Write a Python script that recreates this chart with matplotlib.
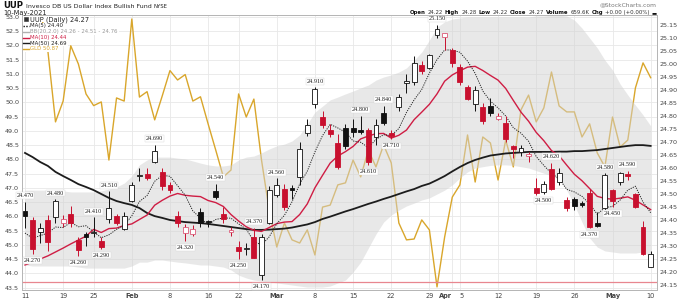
import matplotlib
matplotlib.use('Agg')
import matplotlib.pyplot as plt
import numpy as np
import pandas as pd
from matplotlib.lines import Line2D
from matplotlib.patches import Rectangle

# ---------------- data ----------------
dates = pd.bdate_range('2021-01-11', '2021-05-10')
holidays = pd.to_datetime(['2021-01-18', '2021-02-15', '2021-04-02'])
dates = dates[~dates.isin(holidays)]

opens = [24.435, 24.40, 24.355, 24.40, 24.41, 24.39, 24.425, 24.325, 24.345, 24.35,
         24.32, 24.405, 24.415, 24.365, 24.475, 24.57, 24.577, 24.625, 24.585, 24.535,
         24.415, 24.35, 24.347, 24.43, 24.395, 24.51, 24.425, 24.355, 24.295, 24.29,
         24.335, 24.19, 24.39, 24.497, 24.52, 24.525, 24.565, 24.735, 24.845, 24.795,
         24.745, 24.695, 24.755, 24.755, 24.745, 24.745, 24.72, 24.81, 24.735, 24.835,
         24.927, 24.93, 24.995, 24.985, 25.11, 25.105, 25.055, 24.99, 24.91, 24.848,
         24.835, 24.84, 24.79, 24.772, 24.685, 24.66, 24.648, 24.525, 24.508, 24.595,
         24.548, 24.477, 24.48, 24.465, 24.505, 24.388, 24.447, 24.515, 24.545, 24.577,
         24.50, 24.372, 24.22]
highs = [24.47, 24.41, 24.39, 24.42, 24.48, 24.42, 24.455, 24.335, 24.355, 24.41,
         24.335, 24.51, 24.425, 24.43, 24.545, 24.60, 24.60, 24.69, 24.60, 24.545,
         24.435, 24.385, 24.38, 24.445, 24.40, 24.54, 24.45, 24.375, 24.32, 24.31,
         24.37, 24.345, 24.53, 24.56, 24.54, 24.535, 24.70, 24.79, 24.91, 24.82,
         24.77, 24.73, 24.77, 24.79, 24.80, 24.755, 24.79, 24.84, 24.745, 24.885,
         24.96, 25.03, 25.01, 25.04, 25.15, 25.12, 25.06, 25.00, 24.92, 24.915,
         24.85, 24.87, 24.81, 24.80, 24.69, 24.69, 24.66, 24.56, 24.55, 24.62,
         24.60, 24.49, 24.49, 24.475, 24.52, 24.43, 24.58, 24.52, 24.585, 24.59,
         24.505, 24.395, 24.28]
lows = [24.37, 24.27, 24.31, 24.28, 24.39, 24.375, 24.375, 24.26, 24.30, 24.335,
        24.29, 24.39, 24.38, 24.36, 24.47, 24.55, 24.555, 24.62, 24.515, 24.505,
        24.375, 24.32, 24.34, 24.375, 24.375, 24.48, 24.39, 24.34, 24.25, 24.265,
        24.252, 24.17, 24.385, 24.49, 24.44, 24.48, 24.535, 24.725, 24.83, 24.755,
        24.72, 24.595, 24.675, 24.72, 24.73, 24.61, 24.69, 24.765, 24.71, 24.82,
        24.89, 24.92, 24.96, 24.98, 25.10, 25.055, 24.99, 24.92, 24.86, 24.82,
        24.77, 24.80, 24.785, 24.70, 24.64, 24.645, 24.625, 24.495, 24.50, 24.515,
        24.535, 24.435, 24.44, 24.45, 24.37, 24.375, 24.43, 24.45, 24.535, 24.555,
        24.445, 24.265, 24.22]
closes = [24.415, 24.29, 24.37, 24.315, 24.475, 24.405, 24.39, 24.285, 24.335, 24.355,
          24.297, 24.445, 24.39, 24.415, 24.535, 24.572, 24.56, 24.665, 24.53, 24.515,
          24.39, 24.375, 24.365, 24.39, 24.392, 24.49, 24.405, 24.36, 24.28, 24.292,
          24.255, 24.335, 24.515, 24.535, 24.45, 24.515, 24.675, 24.765, 24.905, 24.765,
          24.73, 24.605, 24.685, 24.737, 24.738, 24.625, 24.765, 24.775, 24.722, 24.873,
          24.935, 25.005, 24.975, 25.035, 25.135, 25.12, 25.005, 24.93, 24.865, 24.90,
          24.78, 24.81, 24.80, 24.71, 24.675, 24.677, 24.652, 24.505, 24.54, 24.52,
          24.58, 24.447, 24.452, 24.458, 24.375, 24.378, 24.575, 24.475, 24.58, 24.568,
          24.45, 24.27, 24.27]

ma5 = [24.35, 24.33, 24.34, 24.35, 24.373, 24.371, 24.391, 24.374, 24.378, 24.354,
       24.332, 24.343, 24.364, 24.380, 24.416, 24.471, 24.494, 24.549, 24.572, 24.568,
       24.532, 24.495, 24.435, 24.407, 24.382, 24.402, 24.408, 24.407, 24.385, 24.365,
       24.318, 24.304, 24.335, 24.386, 24.418, 24.470, 24.538, 24.588, 24.662, 24.725,
       24.768, 24.754, 24.738, 24.704, 24.699, 24.678, 24.710, 24.728, 24.725, 24.752,
       24.814, 24.862, 24.902, 24.965, 25.017, 25.054, 25.054, 25.045, 25.011, 24.964,
       24.896, 24.857, 24.831, 24.800, 24.755, 24.734, 24.703, 24.644, 24.610, 24.579,
       24.559, 24.518, 24.508, 24.491, 24.462, 24.422, 24.448, 24.452, 24.477, 24.515,
       24.530, 24.469, 24.428]
ma10 = [24.227, 24.238, 24.250, 24.262, 24.277, 24.292, 24.308, 24.323, 24.338, 24.364,
        24.352, 24.367, 24.369, 24.379, 24.385, 24.402, 24.419, 24.457, 24.476, 24.492,
        24.502, 24.495, 24.492, 24.490, 24.475, 24.467, 24.452, 24.421, 24.396, 24.374,
        24.360, 24.356, 24.371, 24.386, 24.392, 24.394, 24.421, 24.462, 24.524, 24.572,
        24.619, 24.646, 24.663, 24.683, 24.712, 24.723, 24.732, 24.733, 24.715, 24.726,
        24.746, 24.786, 24.815, 24.845, 24.885, 24.934, 24.958, 24.974, 24.988, 24.991,
        24.975, 24.956, 24.938, 24.906, 24.860, 24.815, 24.780, 24.737, 24.705, 24.667,
        24.647, 24.611, 24.576, 24.551, 24.521, 24.491, 24.483, 24.480, 24.484, 24.489,
        24.476, 24.458, 24.440]
ma50 = [24.658, 24.642, 24.623, 24.608, 24.585, 24.569, 24.554, 24.538, 24.527, 24.515,
        24.500, 24.485, 24.473, 24.465, 24.458, 24.446, 24.427, 24.415, 24.408, 24.400,
        24.396, 24.392, 24.390, 24.388, 24.385, 24.381, 24.377, 24.373, 24.369, 24.365,
        24.362, 24.362, 24.363, 24.365, 24.367, 24.371, 24.377, 24.383, 24.392, 24.404,
        24.413, 24.423, 24.433, 24.442, 24.452, 24.462, 24.471, 24.481, 24.490, 24.500,
        24.510, 24.519, 24.531, 24.540, 24.554, 24.569, 24.587, 24.604, 24.619, 24.631,
        24.640, 24.648, 24.652, 24.656, 24.658, 24.660, 24.662, 24.662, 24.662, 24.662,
        24.663, 24.663, 24.665, 24.665, 24.667, 24.669, 24.673, 24.677, 24.681, 24.685,
        24.688, 24.688, 24.685]
bb_upper = [24.515, 24.515, 24.515, 24.515, 24.512, 24.512, 24.508, 24.508, 24.508, 24.508,
            24.512, 24.519, 24.527, 24.542, 24.569, 24.612, 24.631, 24.642, 24.642, 24.642,
            24.638, 24.635, 24.627, 24.619, 24.612, 24.608, 24.608, 24.612, 24.631, 24.642,
            24.646, 24.658, 24.673, 24.685, 24.692, 24.704, 24.727, 24.769, 24.815, 24.838,
            24.862, 24.873, 24.885, 24.896, 24.908, 24.919, 24.938, 24.950, 24.958, 24.969,
            24.985, 25.015, 25.046, 25.092, 25.142, 25.162, 25.173, 25.177, 25.181, 25.181,
            25.181, 25.181, 25.181, 25.181, 25.181, 25.181, 25.181, 25.185, 25.185, 25.188,
            25.188, 25.185, 25.169, 25.138, 25.100, 25.062, 25.015, 24.977, 24.923, 24.881,
            24.842, 24.804, 24.762]
bb_lower = [24.227, 24.223, 24.223, 24.223, 24.223, 24.223, 24.223, 24.219, 24.215, 24.215,
            24.215, 24.215, 24.215, 24.215, 24.223, 24.238, 24.238, 24.246, 24.246, 24.242,
            24.238, 24.235, 24.231, 24.227, 24.227, 24.223, 24.219, 24.208, 24.188, 24.177,
            24.169, 24.165, 24.162, 24.158, 24.154, 24.150, 24.146, 24.142, 24.142, 24.142,
            24.146, 24.158, 24.169, 24.200, 24.238, 24.292, 24.346, 24.392, 24.419, 24.438,
            24.454, 24.465, 24.477, 24.485, 24.500, 24.515, 24.535, 24.562, 24.585, 24.600,
            24.605, 24.610, 24.612, 24.612, 24.610, 24.605, 24.600, 24.590, 24.580, 24.570,
            24.555, 24.515, 24.458, 24.392, 24.331, 24.296, 24.281, 24.277, 24.273, 24.273,
            24.273, 24.277, 24.262]
gld = [53.40, 53.60, 53.30, 51.81, 49.32, 50.05, 51.99, 51.35, 50.30, 49.89,
       50.02, 47.98, 50.16, 50.05, 52.93, 50.19, 50.38, 49.39, 50.24, 51.12,
       50.79, 50.98, 50.05, 50.20, 49.25, 48.33, 47.39, 47.63, 50.30, 49.49,
       50.12, 47.98, 46.23, 44.93, 45.77, 45.18, 45.07, 45.53, 44.65, 46.33,
       46.40, 47.11, 47.18, 47.98, 47.39, 48.33, 47.74, 48.51, 47.88, 45.77,
       45.18, 45.21, 45.88, 45.53, 43.53, 45.28, 46.68, 47.11, 48.86, 47.21,
       48.79, 48.58, 47.28, 48.68, 47.74, 49.74, 50.26, 49.32, 49.81, 51.07,
       49.88, 49.67, 49.67, 48.79, 49.25, 48.23, 47.74, 49.49, 48.44, 48.68,
       50.51, 51.39, 50.87]

alert_level = 24.16

label_high_idx = [0, 4, 9, 11, 17, 25, 30, 33, 38, 44, 47, 54, 69, 76, 79]
label_low_idx = [1, 7, 10, 21, 28, 31, 45, 48, 68, 74, 77]

tick_dates = ['2021-01-11', '2021-01-19', '2021-01-25', '2021-02-01', '2021-02-08',
              '2021-02-16', '2021-02-22', '2021-03-01', '2021-03-08', '2021-03-15',
              '2021-03-22', '2021-03-29', '2021-04-01', '2021-04-05', '2021-04-12',
              '2021-04-19', '2021-04-26', '2021-05-03', '2021-05-10']
tick_labels = ['11', '19', '25', 'Feb', '8', '16', '22', 'Mar', '8', '15',
               '22', '29', 'Apr', '5', '12', '19', '26', 'May', '10']

# ---------------- figure ----------------
W, H = 682, 300
L, R, T, B = 22, 657, 15, 290
fig = plt.figure(figsize=(W / 100, H / 100), dpi=100)
ax_g = fig.add_axes([L / W, 1 - B / H, (R - L) / W, (B - T) / H])
ax = ax_g.twinx()
ax_g.set_zorder(1)
ax.set_zorder(2)
ax.patch.set_visible(False)

n = len(closes)
x = np.arange(n)
o = np.array(opens); c = np.array(closes); h = np.array(highs); lo = np.array(lows)

ax.set_xlim(-0.39, 82.83)
ax.set_ylim(24.1308, 25.1885)
ax_g.set_ylim(43.421, 53.070)

RED = '#c8102e'
PINK = '#dc5a78'
BLACK = '#111111'
GOLD = '#d9a62b'

# GLD overlay (left axis)
ax_g.plot(x, gld, color=GOLD, lw=1.0, zorder=3)

# Bollinger band
ax.fill_between(x, bb_lower, bb_upper, color='#d2d2d2', alpha=0.5, lw=0, zorder=1)

# alert line
ax.axhline(alert_level, color='#e8868f', lw=0.9, zorder=2)

# moving averages
ax.plot(x, ma50, color='#1c1c1c', lw=1.3, zorder=3)
ax.plot(x, ma10, color='#cf1d44', lw=1.0, zorder=3)
ax.plot(x, ma5, color='#222222', lw=0.7, ls=(0, (1.2, 1.2)), zorder=3)

# candles
prev = np.concatenate([[c[0]], c[:-1]])
up_day = c >= prev
edge = np.where(up_day, BLACK, RED)
hollow = c > o
bottoms = np.minimum(o, c)
heights = np.maximum(np.abs(c - o), 0.002)
ax.vlines(x, lo, h, colors=edge, lw=0.7, zorder=4)
face = [('white' if hol else col) for hol, col in zip(hollow, edge)]
ecol = [(PINK if (hol and not u) else col) for hol, u, col in zip(hollow, up_day, edge)]
ax.bar(x, heights, bottom=bottoms, width=0.64, color=face, edgecolor=ecol,
       linewidth=0.6, zorder=5)

# candle labels
for i in label_high_idx:
    ax.annotate(f"{highs[i]:.3f}", (x[i], highs[i]), xytext=(0, 4.4),
                textcoords='offset points', ha='center', va='center',
                fontsize=4.5, family='Liberation Serif', color='#222222', zorder=6,
                bbox=dict(boxstyle='square,pad=0.12', fc='white', ec='#d8d8d8', lw=0.3))
for i in label_low_idx:
    ax.annotate(f"{lows[i]:.3f}", (x[i], lows[i]), xytext=(0, -4.7),
                textcoords='offset points', ha='center', va='center',
                fontsize=4.5, family='Liberation Serif', color='#222222', zorder=6,
                bbox=dict(boxstyle='square,pad=0.12', fc='white', ec='#d8d8d8', lw=0.3))

# ticks & grid
tick_idx = [int(np.where(dates == pd.Timestamp(d))[0][0]) for d in tick_dates]
ax_g.set_xticks(tick_idx)
ax_g.set_xticklabels(tick_labels)
xlabs = ax_g.get_xticklabels()
for k, lab in enumerate(xlabs):
    if lab.get_text() in ('Feb', 'Mar', 'Apr', 'May'):
        lab.set_fontweight('bold')
    if lab.get_text() == 'Apr':
        lab.set_horizontalalignment('right')
    if k == 13:
        lab.set_horizontalalignment('left')
ax_g.set_yticks(np.arange(43.5, 53.01, 0.5))
ax_g.set_yticklabels([f"{v:.1f}" for v in np.arange(43.5, 53.01, 0.5)])
ax.set_yticks(np.arange(24.15, 25.151, 0.05))
ax.set_yticklabels([f"{v:.2f}" for v in np.arange(24.15, 25.151, 0.05)])
ax_g.grid(True, color='#e8e8e8', lw=0.6)
ax_g.set_axisbelow(True)
for a in (ax, ax_g):
    a.tick_params(length=0, labelsize=4.6, labelcolor='#444444', pad=2)
    for s in a.spines.values():
        s.set_color('#b5b5b5')
        s.set_linewidth(0.6)
ax_g.tick_params(axis='x', pad=2.5, labelsize=4.8)


def fx(px):
    return px / W


def fy(py):
    return 1 - py / H


fig.canvas.draw()
rend = fig.canvas.get_renderer()


def text_width(t, fs, bold):
    tt = fig.text(0, 0, t, fontsize=fs, fontweight='bold' if bold else 'normal')
    w = tt.get_window_extent(renderer=rend).width
    tt.remove()
    return w


# legend (white backing behind icons and each text row)
fig.add_artist(Rectangle((fx(22.5), fy(51.5)), fx(7), 35 / H, transform=fig.transFigure,
                         fc='white', ec='none', zorder=10))
leg = [
    ('UUP (Daily) 24.27', '#222222', None, 4.8),
    ('MA(5) 24.40', '#222222', (BLACK, (0, (1, 1))), 3.9),
    ('BB(20,2.0) 24.26 - 24.51 - 24.76', '#9a9a9a', ('#b0b0b0', '-'), 3.9),
    ('MA(10) 24.44', '#cf1d44', ('#cf1d44', '-'), 3.9),
    ('MA(50) 24.69', '#222222', ('#1c1c1c', '-'), 3.9),
    (f'GLD {gld[-1]:.2f}', GOLD, (GOLD, '-'), 3.9),
]
row_y = [19.3, 25.8, 31.8, 37.6, 43.2, 48.6]
for k, (txt, col, ln, fs) in enumerate(leg):
    yy = row_y[k]
    wpx = text_width(txt, fs, False)
    fig.add_artist(Rectangle((fx(29), fy(yy + 3.1)), fx(wpx + 2), 6.2 / H,
                             transform=fig.transFigure, fc='white', ec='none', zorder=10))
    if ln is None:
        fig.add_artist(Rectangle((fx(24), fy(yy + 2)), fx(3.5), 4 / H, transform=fig.transFigure,
                                 fc='#333333', ec='#333333', lw=0.4, zorder=11))
    else:
        fig.add_artist(Line2D([fx(23.5), fx(29)], [fy(yy), fy(yy)], transform=fig.transFigure,
                              color=ln[0], ls=ln[1], lw=1.0, zorder=11))
    fig.text(fx(30), fy(yy), txt, fontsize=fs, color=col, va='center', ha='left', zorder=11)


def lay(pieces, x0, y, gap, align='left'):
    widths = [text_width(t, fs, b) for t, fs, b, _ in pieces]
    total = sum(widths) + gap * (len(pieces) - 1)
    xx = x0 if align == 'left' else x0 - total
    for (t, fs, b, col), w in zip(pieces, widths):
        fig.text(fx(xx), fy(y), t, fontsize=fs, fontweight='bold' if b else 'normal',
                 color=col, va='center', ha='left')
        xx += w + gap


# header
lay([('UUP', 6.2, True, '#111111'),
     ('Invesco DB US Dollar Index Bullish Fund', 4.5, False, '#222222'),
     ('NYSE', 3.9, False, '#222222')], 3, 6, 2.5)
fig.text(fx(3), fy(13), '10-May-2021', fontsize=4.8, color='#222222', va='center')
fig.text(fx(657), fy(4.5), '@StockCharts.com', fontsize=4.3, color='#777777',
         va='center', ha='right')
lay([('Open', 3.9, True, '#111111'), ('24.22', 3.9, False, '#333333'),
     ('High', 3.9, True, '#111111'), ('24.28', 3.9, False, '#333333'),
     ('Low', 3.9, True, '#111111'), ('24.22', 3.9, False, '#333333'),
     ('Close', 3.9, True, '#111111'), ('24.27', 3.9, False, '#333333'),
     ('Volume', 3.9, True, '#111111'), ('659.6K', 3.9, False, '#333333'),
     ('Chg', 3.9, True, '#111111'), ('+0.00 (+0.00%)', 3.9, False, '#333333'),
     ('\u25AC', 3.9, False, '#111111')], 657, 12.3, 2.1, align='right')

fig.savefig('out.png', dpi=100)
